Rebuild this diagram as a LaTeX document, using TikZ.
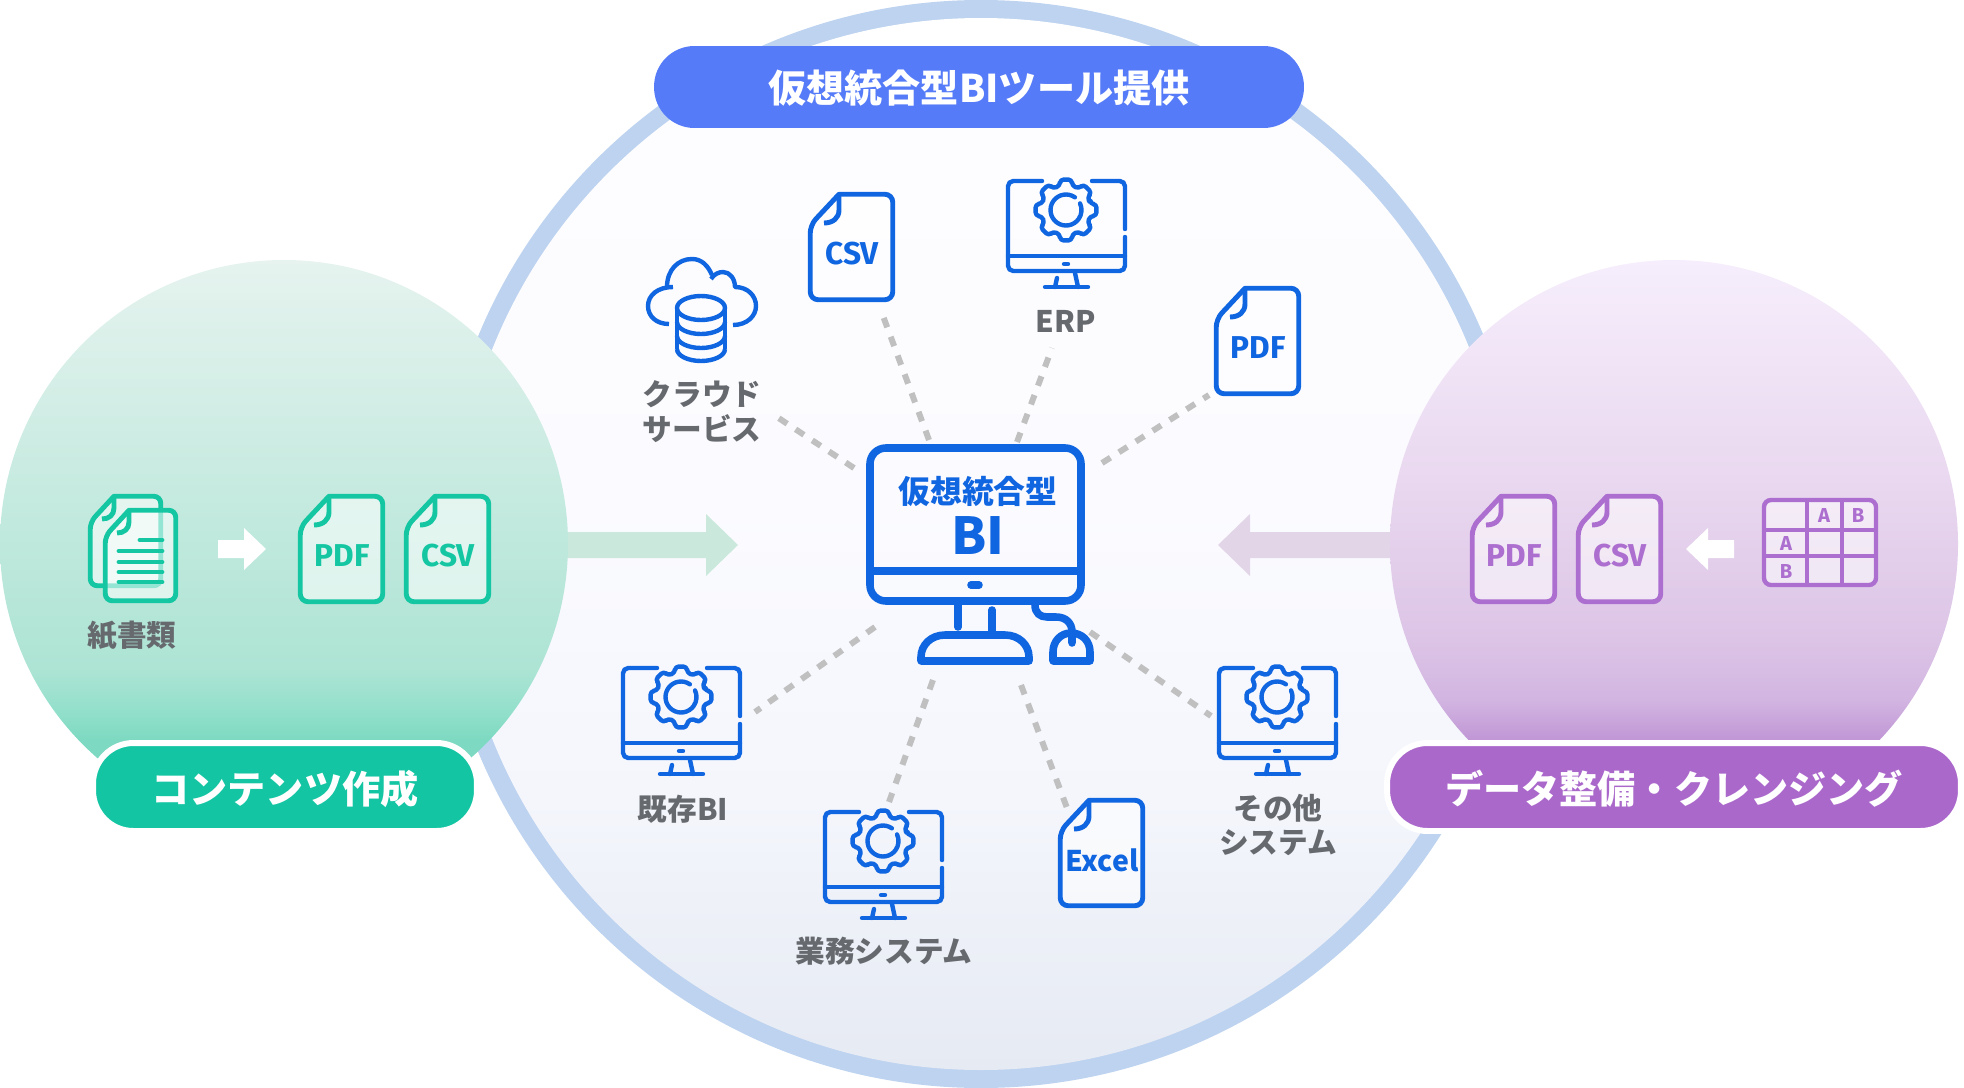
\documentclass[tikz,border=0pt]{standalone}
\usepackage{fontspec}
\setmainfont{Noto Sans CJK JP}
\newfontfamily\docfont{Fira Sans}
\usetikzlibrary{calc}

\definecolor{ringblue}{HTML}{BDD3F0}
\definecolor{iconblue}{HTML}{1065E0}
\definecolor{pillblue}{HTML}{557BF8}
\definecolor{pillgreen}{HTML}{14C5A3}
\definecolor{pillpurple}{HTML}{AA68CB}
\definecolor{icongreen}{HTML}{15C6A3}
\definecolor{iconpurple}{HTML}{AC6ECF}
\definecolor{textgray}{HTML}{66696E}
\definecolor{dashgray}{HTML}{C0C0C0}
\definecolor{arrowgreen}{HTML}{CAE9DC}
\definecolor{arrowpurple}{HTML}{E2D5E8}

\definecolor{gs0}{HTML}{7DD9C1}\definecolor{gs1}{HTML}{90DFCA}\definecolor{gs2}{HTML}{ADE4D4}
\definecolor{gs3}{HTML}{C9EBE1}\definecolor{gs4}{HTML}{E6F3EF}
\definecolor{ps0}{HTML}{C096D5}\definecolor{ps1}{HTML}{D2B5E1}\definecolor{ps2}{HTML}{DCC4E6}
\definecolor{ps3}{HTML}{EAD9F0}\definecolor{ps4}{HTML}{F6EEFC}
\definecolor{bs0}{HTML}{E6EAF3}\definecolor{bs1}{HTML}{EEF1F8}\definecolor{bs2}{HTML}{F4F6FC}
\definecolor{bs3}{HTML}{FBFBFF}\definecolor{bs4}{HTML}{FDFDFF}
\pgfdeclareverticalshading{bigfade}{100bp}{color(0bp)=(bs0);color(25bp)=(bs0);color(33bp)=(bs1);
  color(37.8bp)=(bs2);color(52bp)=(bs3);color(68.7bp)=(bs4);color(75bp)=(white);color(100bp)=(white)}
\pgfdeclareverticalshading{greenfade}{100bp}{color(0bp)=(gs0);color(32.7bp)=(gs0);color(35bp)=(gs1);
  color(39bp)=(gs2);color(56.5bp)=(gs3);color(75bp)=(gs4);color(100bp)=(gs4)}
\pgfdeclareverticalshading{purplefade}{100bp}{color(0bp)=(ps0);color(32.7bp)=(ps0);color(36.3bp)=(ps1);
  color(41.5bp)=(ps2);color(56.5bp)=(ps3);color(75bp)=(ps4);color(100bp)=(ps4)}

\tikzset{
  dashline/.style={draw=dashgray,line width=3.4pt,dash pattern=on 5.7pt off 5.7pt},
  iconline/.style={draw=iconblue,line width=2.5pt,line cap=round,line join=round},
  docline/.style={line width=2.8pt,line join=round},
  graylabel/.style={text=textgray,font=\bfseries\fontsize{16.9}{20}\selectfont,inner sep=0pt,yshift=-0.02cm},
  pillshape/.style={inner sep=0pt,rounded corners=23pt,minimum height=1.76cm},
  pilltext/.style={text=white,font=\bfseries\fontsize{21.7}{26}\selectfont,inner sep=0pt,yshift=-0.03cm}
}

% file icon with a folded corner, origin at its top left
\newcommand{\filedoc}[5]{
\begin{scope}[shift={(#2,#3)}]
\draw[docline,draw=#4,fill=white,fill opacity=.55]
  (31,2.25) [rounded corners=4.5pt] -- (84.75,2.25) -- (84.75,107.75) -- (2.25,107.75) -- (2.25,33)
  [sharp corners] -- cycle;
\draw[docline,draw=#4] (31,2.25) -- (31,18) .. controls (31,26) and (25,31) .. (16,31);
\node[inner sep=0pt,text=#4,font=\docfont\bfseries\fontsize{18}{20}\selectfont] (#1) at (44,62) {#5};
\end{scope}
}

% monitor with a gear on its screen, origin at its top left
\newcommand{\gearmonitor}[2]{
\begin{scope}[shift={(#1,#2)},iconline]
\draw[rounded corners=3pt] (36,2) -- (2,2) -- (2,92) -- (119,92) -- (119,58);
\draw[rounded corners=3pt] (119,50) -- (119,2) -- (86,2);
\draw (2,77) -- (119,77);
\draw (58,85) -- (62,85);
\draw (51,99) -- (49,108);
\draw (69,94) -- (72,108);
\draw (39,108) -- (82,108);
\draw[rounded corners=2pt] (60,31) ++(-14:25)
  \foreach \a in {0,45,...,315} { -- ($(60,31)+(\a-14:25)$) -- ($(60,31)+(\a-11:31)$) -- ($(60,31)+(\a+11:31)$) -- ($(60,31)+(\a+14:25)$) } -- cycle;
\draw ([shift={(-55:15.5)}]60,31) arc[start angle=-55,end angle=-385,radius=15.5];
\end{scope}
}

\begin{document}
\begin{tikzpicture}[x=0.02cm,y=-0.02cm]
\useasboundingbox (0,0) rectangle (1964,1088);

% Main circle and its ring
\fill[ringblue] (981,544) circle (544);
\shade[shading=bigfade] (981,544) circle (526);

% Dashed connectors around the screen
\coordinate (cloud end) at (777,417);
\coordinate (cloud bi) at (854,468);
\coordinate (csv end) at (883,316);
\coordinate (csv bi) at (929,440);
\coordinate (erp end) at (1052,348);
\coordinate (erp bi) at (1017,442);
\coordinate (pdf end) at (1209,395);
\coordinate (pdf bi) at (1102,463);
\coordinate (old end) at (755,712);
\coordinate (old bi) at (875,627);
\coordinate (work end) at (889,802);
\coordinate (work bi) at (933,680);
\coordinate (excel end) at (1067,808);
\coordinate (excel bi) at (1021,685);
\coordinate (other end) at (1211,716);
\coordinate (other bi) at (1090,632);
\foreach \a in {cloud,csv,erp,pdf,old,work,excel,other}
{
\draw[dashline] (\a\space bi) -- (\a\space end);
}

% Wide arrows into the main circle
\fill[arrowgreen] (560,532) -- (706,532) -- (706,514) -- (738,545) -- (706,576) -- (706,558) -- (560,558) -- cycle;
\fill[arrowpurple] (1398,532) -- (1250,532) -- (1250,514) -- (1218,545) -- (1250,576) -- (1250,558) -- (1398,558) -- cycle;

% Side circles
\shade[shading=greenfade] (284,544) circle (284);
\shade[shading=purplefade] (1674,544) circle (284);

% Title pills
\node[fill=pillblue,pillshape,minimum width=13cm,minimum height=1.64cm] (titlepill) at (979,87) {};
\node[pilltext] (titletext) at (titlepill.center) {仮想統合型BIツール提供};
\node[fill=pillgreen,draw=white,line width=3.4pt,pillshape,minimum width=7.68cm] (greenpill) at (285,787) {};
\node[pilltext] (greentext) at (greenpill.center) {コンテンツ作成};
\node[fill=pillpurple,draw=white,line width=3.4pt,pillshape,minimum width=11.48cm] (purplepill) at (1674,787) {};
\node[pilltext] (purpletext) at (purplepill.center) {データ整備・クレンジング};

% Central monitor
\begin{scope}[draw=iconblue,line cap=round,line join=round]
\draw[line width=4.3pt,rounded corners=9pt] (870,448) rectangle (1081,601);
\draw[line width=4.5pt] (870,571) -- (1081,571);
\draw[line width=4.3pt] (971,585) -- (979,585);
\draw[line width=4.3pt] (958,605) -- (958,627);
\draw[line width=4.3pt] (992,610) -- (992,633);
\draw[line width=4.3pt] (921,661) -- (921,657) .. controls (921,645) and (931,635) .. (945,635) -- (1005,635)
  .. controls (1019,635) and (1029,645) .. (1029,657) -- (1029,661) -- cycle;
\draw[line width=4.3pt] (1053,661) -- (1053,652) .. controls (1053,641) and (1061,633) .. (1071,633)
  .. controls (1082,633) and (1090,641) .. (1090,652) -- (1090,661) -- cycle;
\draw[line width=4.3pt] (1035,605) .. controls (1035,613) and (1040,617) .. (1047,617) -- (1056,617)
  .. controls (1066,617) and (1072,623) .. (1072,632) -- (1072,643);
\end{scope}
\node[inner sep=0pt,text=iconblue,font=\bfseries\fontsize{18.1}{22}\selectfont] (bi title) at (978,491) {仮想統合型};
\node[inner sep=0pt,text=iconblue,font=\bfseries\fontsize{29}{34}\selectfont] (bi name) at (978,536) {BI};

% Sources around the monitor
\gearmonitor{1006}{179}
\node[graylabel] (erp label) at (1066,320) {ERP};
\gearmonitor{621}{666}
\node[graylabel] (old label) at (683,808) {既存BI};
\gearmonitor{823}{810}
\node[graylabel] (work label) at (884,950) {業務システム};
\gearmonitor{1217}{666}
\node[graylabel] (other label a) at (1278,807) {その他};
\node[graylabel] (other label b) at (1278,842) {システム};

\filedoc{csv file}{808}{192}{iconblue}{CSV}
\filedoc{pdf file}{1214}{286}{iconblue}{PDF}
\filedoc{excel file}{1058}{798}{iconblue}{\normalfont\bfseries\fontsize{16.2}{20}\selectfont Excel}

% Cloud with a database
\begin{scope}[iconline,line cap=butt]
\draw (669,324) .. controls (656,324) and (648,316) .. (648,306) .. controls (648,295) and (658,287) .. (673,287);
\draw (667,287) .. controls (667,270) and (678,259) .. (692,259) .. controls (702,259) and (708,266) .. (712,275);
\draw (711,279) .. controls (714,274) and (719,272) .. (723,272) .. controls (730,272) and (735,279) .. (735,287)
  .. controls (748,287) and (756,296) .. (756,306) .. controls (756,316) and (747,325) .. (733,325);
\draw (701,308) ellipse (24 and 12);
\draw (677,308) -- (677,349) (725,308) -- (725,349);
\foreach \y in {322,336,349}
{
\draw (677,\y) arc[start angle=180,end angle=0,x radius=24,y radius=12];
}
\end{scope}
\node[graylabel] (cloud label a) at (702,393) {クラウド};
\node[graylabel] (cloud label b) at (702,428) {サービス};

% Content side: papers to files
\begin{scope}[shift={(88,494)},docline,draw=icongreen]
\draw[fill=white,fill opacity=.55] (26,2.25) [rounded corners=4pt] -- (72.75,2.25) -- (72.75,91.75) -- (2.25,91.75) -- (2.25,28) [sharp corners] -- cycle;
\draw (26,2.25) -- (26,14) .. controls (26,21) and (21,25) .. (14,25);
\end{scope}
\begin{scope}[shift={(103,508)},docline,draw=icongreen]
\draw[fill=white,fill opacity=.55] (26,2.25) [rounded corners=4pt] -- (72.75,2.25) -- (72.75,92.75) -- (2.25,92.75) -- (2.25,28) [sharp corners] -- cycle;
\draw (26,2.25) -- (26,14) .. controls (26,21) and (21,25) .. (14,25);
\draw[line cap=round] (37,32) -- (59,32);
\foreach \y in {43,54,64,74}
{
\draw[line cap=round] (16,\y) -- (59,\y);
}
\end{scope}
\node[graylabel] (paper label) at (132,635) {紙書類};
\fill[white] (218,540) -- (244,540) -- (244,528) -- (266,549) -- (244,570) -- (244,558) -- (218,558) -- cycle;
\filedoc{green pdf}{298}{494}{icongreen}{PDF}
\filedoc{green csv}{404}{494}{icongreen}{CSV}

% Cleansing side: table to files
\filedoc{purple pdf}{1470}{494}{iconpurple}{PDF}
\filedoc{purple csv}{1576}{494}{iconpurple}{CSV}
\fill[white] (1734,540) -- (1708,540) -- (1708,528) -- (1686,549) -- (1708,570) -- (1708,558) -- (1734,558) -- cycle;
\begin{scope}[draw=iconpurple,line width=2.5pt]
\draw[fill=white,fill opacity=.55,rounded corners=4pt] (1764,500) rectangle (1876,585);
\draw (1807,500) -- (1807,585) (1842,500) -- (1842,585);
\draw (1764,530) -- (1876,530) (1764,556) -- (1876,556);
\end{scope}
\foreach \n/\x/\y/\t in {ca/1824/515/A,cb/1858/515/B,ra/1786/543/A,rb/1786/571/B}
{
\node[inner sep=0pt,text=iconpurple,font=\docfont\bfseries\fontsize{11.5}{14}\selectfont] (\n) at (\x,\y) {\t};
}

\end{tikzpicture}
\end{document}
